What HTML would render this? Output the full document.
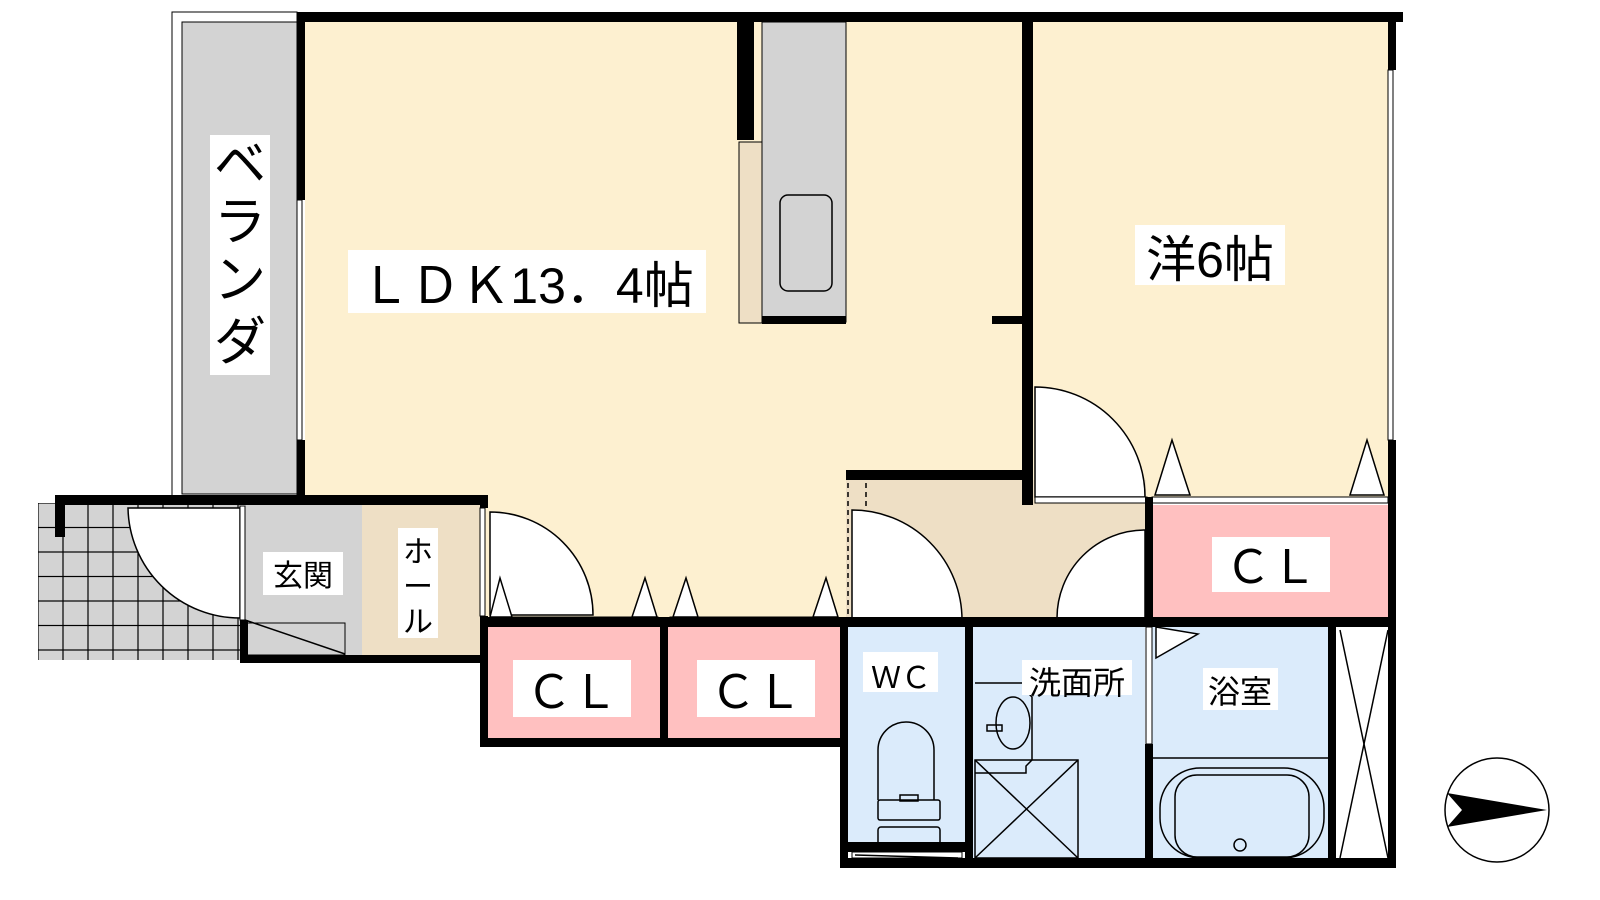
<!DOCTYPE html>
<html><head><meta charset="utf-8"><style>
html,body{margin:0;padding:0;background:#fff;width:1600px;height:900px;overflow:hidden}
svg{display:block}
text{font-family:"Liberation Sans","Noto Sans CJK JP",sans-serif;fill:#000}
</style></head><body>
<svg width="1600" height="900" viewBox="0 0 1600 900" xmlns="http://www.w3.org/2000/svg">
<defs>
<pattern id="tile" x="38" y="503" width="25" height="24.5" patternUnits="userSpaceOnUse">
<rect width="25" height="24.5" fill="#d3d3d3" stroke="#000" stroke-width="1.2"/>
</pattern>
</defs>
<!-- fills -->
<rect x="172" y="12" width="125" height="485" fill="#fff" stroke="#000" stroke-width="1"/>
<rect x="182" y="22" width="115" height="472" fill="#d3d3d3" stroke="#000" stroke-width="1"/>
<rect x="305" y="22" width="717" height="597" fill="#fdf0d0"/>
<rect x="1033" y="22" width="357" height="477" fill="#fdf0d0"/>
<rect x="846" y="480" width="300" height="139" fill="#eedfc5"/>
<rect x="1152" y="505" width="236" height="114" fill="#ffc0c0"/>
<rect x="488" y="625" width="172" height="113" fill="#ffc0c0"/>
<rect x="668" y="625" width="172" height="113" fill="#ffc0c0"/>
<rect x="38" y="503" width="202" height="157" fill="url(#tile)"/>
<rect x="245" y="505" width="117" height="150" fill="#d3d3d3"/>
<rect x="362" y="505" width="118" height="150" fill="#eedfc5"/>
<rect x="848" y="627" width="117" height="223" fill="#dbebfb"/>
<rect x="973" y="627" width="172" height="233" fill="#dbebfb"/>
<rect x="1152" y="627" width="176" height="233" fill="#dbebfb"/>
<rect x="1336" y="627" width="52" height="233" fill="#fff"/>
<!-- kitchen -->
<rect x="762" y="22" width="84" height="300" fill="#d3d3d3" stroke="#000" stroke-width="1"/>
<rect x="739" y="142" width="23" height="181" fill="#eedfc5" stroke="#000" stroke-width="1"/>
<rect x="780" y="195" width="52" height="96" rx="8" fill="#d3d3d3" stroke="#000" stroke-width="1.5"/>
<!-- door swings -->
<g fill="#fff" stroke="#000" stroke-width="1.5">
<path d="M1035 387 A110 110 0 0 1 1145 497 L1035 497 Z"/>
<path d="M128 508 L240 508 L240 618 A112 112 0 0 1 128 508 Z"/>
<path d="M490 512 A103 103 0 0 1 593 615 L490 615 Z"/>
<path d="M852 510 A110 110 0 0 1 962 620 L852 620 Z"/>
<path d="M1145 530 A88 88 0 0 0 1057 618 L1145 618 Z"/>
<path d="M1155 495 L1172 440 L1190 495 Z"/><path d="M1350 495 L1367 440 L1384 495 Z"/>
<path d="M490 617 L500 578 L512 617 Z"/><path d="M632 617 L645 578 L657 617 Z"/>
<path d="M673 617 L686 578 L698 617 Z"/><path d="M813 617 L826 578 L838 617 Z"/>
<path d="M1156 627 L1156 658 L1198 634 Z"/>
</g>
<!-- thin rails -->
<g fill="#fff" stroke="#000" stroke-width="1">
<rect x="1035" y="497" width="112" height="6"/><rect x="1152" y="497" width="236" height="6"/>
<rect x="490" y="617" width="168" height="6"/><rect x="670" y="617" width="168" height="6"/>
<rect x="852" y="620" width="110" height="6"/><rect x="1057" y="620" width="88" height="6"/>
<rect x="240" y="506" width="5" height="114"/><rect x="480" y="508" width="5" height="108"/>
<rect x="1146" y="627" width="6" height="117"/>
<rect x="297" y="200" width="5" height="240"/>
<rect x="1388" y="70" width="5" height="370"/>
<rect x="852" y="852" width="110" height="6"/>
</g>
<line x1="245" y1="620" x2="345" y2="654" stroke="#000" stroke-width="1.5"/>
<rect x="245" y="623" width="100" height="32" fill="none" stroke="#000" stroke-width="1"/>
<line x1="848" y1="483" x2="848" y2="617" stroke="#000" stroke-width="1.5" stroke-dasharray="5,4"/>
<line x1="866" y1="483" x2="866" y2="510" stroke="#000" stroke-width="1.5" stroke-dasharray="5,4"/>
<!-- walls -->
<g fill="#000">
<rect x="297" y="12" width="1106" height="10"/>
<rect x="297" y="12" width="8" height="188"/><rect x="297" y="440" width="8" height="57"/>
<rect x="737" y="22" width="17" height="118"/>
<rect x="762" y="316" width="84" height="8"/>
<rect x="992" y="316" width="30" height="8"/>
<rect x="1022" y="22" width="11" height="483"/>
<rect x="846" y="470" width="176" height="10"/>
<rect x="1388" y="12" width="8" height="58"/><rect x="1388" y="440" width="8" height="428"/>
<rect x="1145" y="497" width="8" height="130"/>
<rect x="55" y="495" width="433" height="10"/>
<rect x="55" y="495" width="10" height="42"/>
<rect x="480" y="495" width="8" height="13"/><rect x="480" y="616" width="8" height="131"/>
<rect x="240" y="620" width="8" height="43"/>
<rect x="240" y="655" width="248" height="8"/>
<rect x="480" y="617" width="916" height="10"/>
<rect x="480" y="738" width="368" height="9"/>
<rect x="660" y="617" width="8" height="130"/>
<rect x="840" y="617" width="8" height="251"/>
<rect x="965" y="627" width="8" height="233"/>
<rect x="848" y="842" width="117" height="10"/>
<rect x="1145" y="744" width="8" height="124"/>
<rect x="1328" y="627" width="8" height="241"/>
<rect x="840" y="858" width="556" height="10"/>
</g>
<!-- fixtures -->
<g fill="none" stroke="#000" stroke-width="1.5">
<line x1="1340" y1="630" x2="1388" y2="858"/><line x1="1388" y1="630" x2="1340" y2="858"/>
<rect x="975" y="760" width="103" height="98"/><line x1="975" y1="760" x2="1078" y2="858"/><line x1="1078" y1="760" x2="975" y2="858"/>
<path d="M975 683 L1025 683 L1025 690 L1032 697 L1032 760 L1026 766 L1026 773 L975 773"/>
<ellipse cx="1013" cy="723" rx="17" ry="26"/>
<rect x="987" y="725" width="15" height="6"/>
<path d="M892 800 L892 750 A28 28 0 0 1 948 750 L948 800" transform="translate(-14,0)"/>
<rect x="878" y="800" width="62" height="20" rx="2"/>
<rect x="900" y="795" width="18" height="6"/>
<rect x="878" y="827" width="62" height="22" rx="3"/>
<line x1="1153" y1="758" x2="1328" y2="758"/>
<rect x="1160" y="768" width="164" height="90" rx="40"/>
<rect x="1175" y="775" width="134" height="82" rx="22"/>
<circle cx="1240" cy="845" r="6"/>
<line x1="855" y1="855" x2="958" y2="858"/>
</g>
<!-- compass -->
<circle cx="1497" cy="810" r="52" fill="#fff" stroke="#000" stroke-width="1.5"/>
<path d="M1447 793 L1547 810 L1447 827 L1462 810 Z" fill="#000"/>
<!-- labels -->
<g fill="#fff">
<rect x="210" y="135" width="60" height="240"/>
<rect x="348" y="250" width="358" height="63"/>
<rect x="1135" y="225" width="150" height="60"/>
<rect x="1212" y="537" width="118" height="55"/>
<rect x="513" y="660" width="118" height="57"/>
<rect x="697" y="660" width="118" height="57"/>
<rect x="263" y="552" width="80" height="43"/>
<rect x="398" y="528" width="40" height="110"/>
<rect x="863" y="652" width="75" height="40"/>
<rect x="1022" y="660" width="110" height="35"/>
<rect x="1203" y="668" width="75" height="42"/>
</g>
<g font-size="52" text-anchor="middle">
<text x="240" y="182">ベ</text><text x="240" y="240">ラ</text><text x="240" y="298">ン</text><text x="240" y="360">ダ</text>
</g>
<text x="527" y="303" font-size="50" text-anchor="middle">ＬＤＫ13．4帖</text>
<text x="1210" y="277" font-size="50" text-anchor="middle">洋6帖</text>
<g font-size="46" text-anchor="middle">
<text x="1271" y="583">ＣＬ</text><text x="572" y="708">ＣＬ</text><text x="756" y="708">ＣＬ</text>
</g>
<text x="303" y="586" font-size="30" text-anchor="middle">玄関</text>
<g font-size="30" text-anchor="middle"><text x="418" y="562">ホ</text><text x="418" y="597">ー</text><text x="418" y="632">ル</text></g>
<text x="901" y="688" font-size="30" text-anchor="middle">ＷＣ</text>
<text x="1077" y="694" font-size="32" text-anchor="middle">洗面所</text>
<text x="1240" y="703" font-size="32" text-anchor="middle">浴室</text>
</svg>
</body></html>
